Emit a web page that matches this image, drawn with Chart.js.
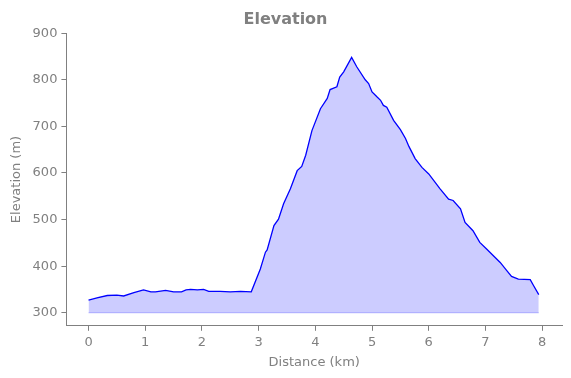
<!DOCTYPE html>
<html>
<head>
<meta charset="utf-8">
<script src="https://cdn.jsdelivr.net/npm/chart.js@4"></script>
<style>
  html, body { margin:0; padding:0; background:#fff; }
  #wrap { width:571px; height:378px; }
</style>
</head>
<body>
<div id="wrap"><canvas id="elevChart" width="571" height="378"></canvas></div>
<script>
// distance along the route (km) and elevation (m)
const distanceKm = [0, 0.15, 0.33, 0.5, 0.62, 0.8, 0.97, 1.1, 1.18, 1.36, 1.5, 1.64, 1.72, 1.8, 1.92, 2.03, 2.12, 2.32, 2.5, 2.68, 2.87,
  3.03, 3.12, 3.15, 3.27, 3.35, 3.44, 3.56, 3.68, 3.76, 3.83, 3.94, 4.09, 4.21, 4.26, 4.38, 4.43, 4.5, 4.64, 4.73, 4.88, 4.94,
  5.0, 5.09, 5.15, 5.2, 5.26, 5.38, 5.5, 5.59, 5.65, 5.76, 5.88, 6.0, 6.2, 6.35, 6.43, 6.56, 6.64, 6.78, 6.9, 7.02, 7.26,
  7.38, 7.46, 7.58, 7.79, 7.85, 7.94];
const elevationM = [327, 332, 337, 338, 336, 343, 349, 345, 345, 348, 345, 345, 349, 350, 349, 350, 346, 346, 345, 346, 345,
  394, 430, 435, 487, 501, 534, 566, 605, 614, 638, 691, 738, 760, 779, 785, 806, 817, 848, 828, 800, 792,
  774, 763, 756, 745, 741, 713, 693, 674, 657, 631, 612, 598, 566, 544, 541, 523, 494, 476, 451, 437, 408,
  390, 378, 372, 371, 358, 339];
const baseline = 300;
const xTicks = [0, 1, 2, 3, 4, 5, 6, 7, 8];
const yTicks = [300, 400, 500, 600, 700, 800, 900];

const gray = "#808080";
const font = { family: "DejaVu Sans", size: 13 };

const profile = distanceKm.map((d, i) => ({ x: d, y: elevationM[i] }));
const base = [{ x: distanceKm[0], y: baseline }, { x: distanceKm[distanceKm.length - 1], y: baseline }];

new Chart(document.getElementById("elevChart"), {
  type: "line",
  data: {
    datasets: [
      {
        data: profile,
        borderColor: "#0000ff",
        borderWidth: 1.3,
        backgroundColor: "rgba(0,0,255,0.2)",
        fill: { value: baseline },
        pointRadius: 0,
        tension: 0
      },
      {
        data: base,
        borderColor: "rgba(0,0,255,0.25)",
        borderWidth: 1,
        pointRadius: 0,
        fill: false
      }
    ]
  },
  options: {
    responsive: false,
    animation: false,
    layout: { padding: { left: 9, right: 9, top: 0, bottom: 8 } },
    plugins: {
      legend: { display: false },
      tooltip: { enabled: false },
      title: {
        display: true,
        text: "Elevation",
        color: gray,
        font: { family: "DejaVu Sans", size: 16, weight: "bold" },
        padding: { top: 10, bottom: 4 }
      }
    },
    scales: {
      x: {
        type: "linear",
        min: -0.39,
        max: 8.35,
        afterBuildTicks: s => { s.ticks = xTicks.map(v => ({ value: v })); },
        grid: { display: true, drawOnChartArea: false, drawTicks: true, tickLength: 5, color: gray },
        border: { display: true, color: gray, width: 1 },
        ticks: { color: gray, font, padding: 4 },
        title: { display: true, text: "Distance (km)", color: gray, font, padding: { top: 0, bottom: 0 } }
      },
      y: {
        min: 272,
        max: 900,
        afterBuildTicks: s => { s.ticks = yTicks.map(v => ({ value: v })); },
        grid: { display: true, drawOnChartArea: false, drawTicks: true, tickLength: 5, color: gray },
        border: { display: true, color: gray, width: 1 },
        ticks: { color: gray, font, padding: 4 },
        title: { display: true, text: "Elevation (m)", color: gray, font, padding: { top: 0, bottom: 4 } }
      }
    }
  }
});
</script>
</body>
</html>
